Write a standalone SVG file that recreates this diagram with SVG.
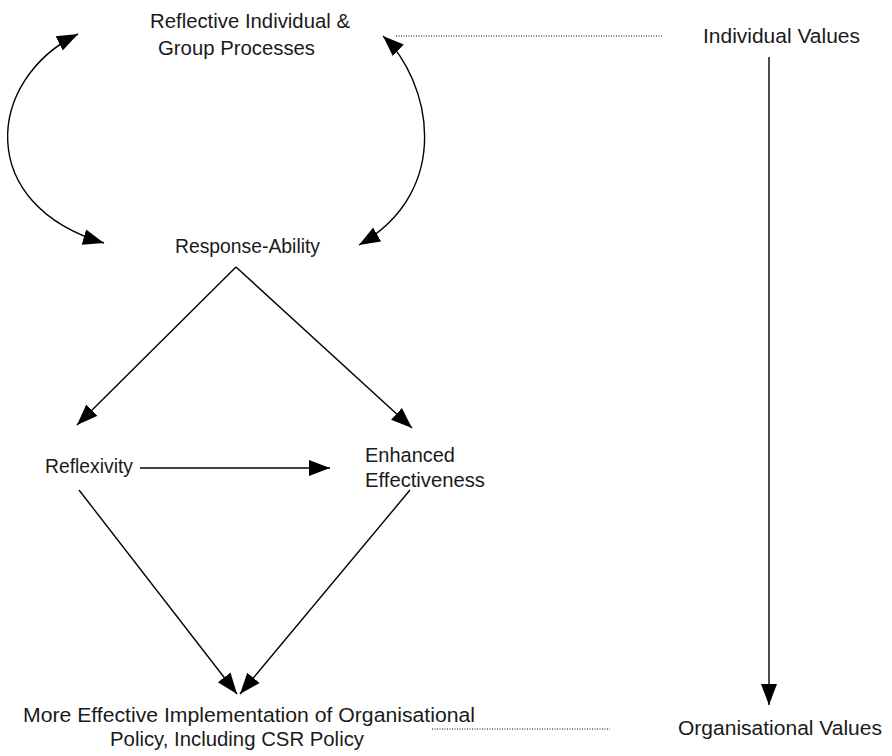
<svg xmlns="http://www.w3.org/2000/svg" width="892" height="756" viewBox="0 0 892 756">
  <defs>
    <marker id="arrow" markerUnits="userSpaceOnUse" markerWidth="22" markerHeight="18" viewBox="0 0 22 18" refX="21" refY="9" orient="auto-start-reverse">
      <path d="M0,1 L21,9 L0,17 Z" fill="#000"/>
    </marker>
    <style>
      .lbl { font-family: "Liberation Sans", Arial, sans-serif; font-size: 20.5px; fill: #1a1a1a; }
      .edge { fill: none; stroke: #000; stroke-width: 1.4; }
      .dot { fill: none; stroke: #000; stroke-width: 1; stroke-dasharray: 1 1.5; }
    </style>
  </defs>
  <rect width="892" height="756" fill="#fff"/>

  <g id="connectors">
    <!-- two-way loop between the process and response nodes -->
    <path class="edge" d="M78,34 C-15,80 -25,205 104,243" marker-start="url(#arrow)" marker-end="url(#arrow)"/>
    <path class="edge" d="M383,36 C430,80 455,190 359,245" marker-start="url(#arrow)" marker-end="url(#arrow)"/>
    <!-- value links -->
    <path class="dot" d="M396,36 H662"/>
    <path class="dot" d="M432,729 H610"/>
    <path class="edge" d="M769,57 V705" marker-end="url(#arrow)"/>
    <!-- response branches -->
    <path class="edge" d="M236,267 L77,425" marker-end="url(#arrow)"/>
    <path class="edge" d="M236,267 L412,428" marker-end="url(#arrow)"/>
    <path class="edge" d="M140,468 H330" marker-end="url(#arrow)"/>
    <path class="edge" d="M79,490 L237,694" marker-end="url(#arrow)"/>
    <path class="edge" d="M410,490 L240,694" marker-end="url(#arrow)"/>
  </g>

  <g id="node-reflective">
    <text class="lbl" x="150" y="28" textLength="200" lengthAdjust="spacingAndGlyphs">Reflective Individual &amp;</text>
    <text class="lbl" x="158" y="55" textLength="157" lengthAdjust="spacingAndGlyphs">Group Processes</text>
  </g>
  <g id="node-individual-values">
    <text class="lbl" x="703" y="43" textLength="157" lengthAdjust="spacingAndGlyphs">Individual Values</text>
  </g>
  <g id="node-response">
    <text class="lbl" x="175" y="253" textLength="145" lengthAdjust="spacingAndGlyphs">Response-Ability</text>
  </g>
  <g id="node-reflexivity">
    <text class="lbl" x="45" y="473" textLength="88" lengthAdjust="spacingAndGlyphs">Reflexivity</text>
  </g>
  <g id="node-enhanced">
    <text class="lbl" x="365" y="462" textLength="90" lengthAdjust="spacingAndGlyphs">Enhanced</text>
    <text class="lbl" x="365" y="487" textLength="120" lengthAdjust="spacingAndGlyphs">Effectiveness</text>
  </g>
  <g id="node-implementation">
    <text class="lbl" x="23" y="722" textLength="452" lengthAdjust="spacingAndGlyphs">More Effective Implementation of Organisational</text>
    <text class="lbl" x="110" y="746" textLength="254" lengthAdjust="spacingAndGlyphs">Policy, Including CSR Policy</text>
  </g>
  <g id="node-organisational-values">
    <text class="lbl" x="678" y="735" textLength="204" lengthAdjust="spacingAndGlyphs">Organisational Values</text>
  </g>
</svg>
